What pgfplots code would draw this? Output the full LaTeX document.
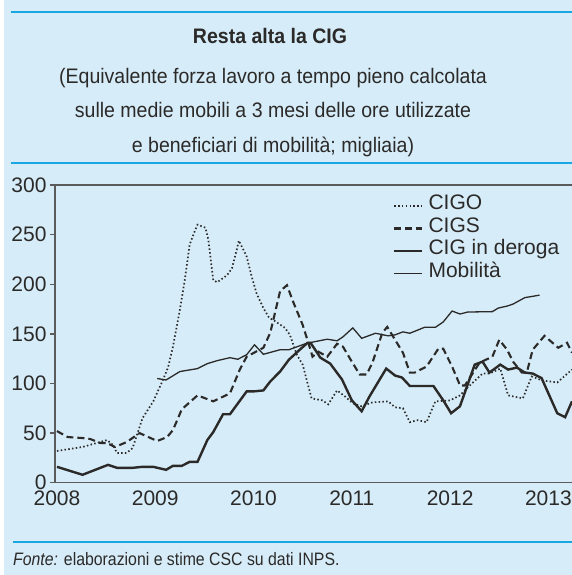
\documentclass[border=0pt]{standalone}
\usepackage{pgfplots}
\pgfplotsset{compat=1.18}
\usepackage{fontspec}
\setmainfont{Liberation Sans}
\newfontfamily\condfont[FakeStretch=0.93]{Liberation Sans}
\newfontfamily\footfont[FakeStretch=0.88]{Liberation Sans}
\definecolor{bg}{HTML}{D6ECF8}
\definecolor{rule}{HTML}{1AA7E1}
\definecolor{hdr}{HTML}{1A8FD0}
\definecolor{ink}{HTML}{2B2A29}
\definecolor{axisgray}{HTML}{5B5B5B}
\begin{document}
\begin{tikzpicture}
\useasboundingbox (0bp,0bp) rectangle (572bp,-575bp);
\clip (0bp,0bp) rectangle (572bp,-575bp);
\fill[white] (0bp,0bp) rectangle (572bp,-575bp);
\fill[bg] (4bp,0bp) rectangle (572bp,-575bp);
\node[anchor=base west, inner sep=0, text=hdr, font=\condfont\bfseries\fontsize{21bp}{24bp}\selectfont] at (425bp,3bp) {Grafico 1.11};
\draw[rule, line width=2.2bp] (11bp,-12bp) -- (572bp,-12bp);
\draw[rule, line width=2.2bp] (11bp,-163bp) -- (572bp,-163bp);
\draw[rule, line width=2.2bp] (13bp,-542bp) -- (572bp,-542bp);
\node[anchor=base, inner sep=0, text=ink, font=\condfont\bfseries\fontsize{21bp}{24bp}\selectfont] at (270bp,-43.5bp) {Resta alta la CIG};
\node[anchor=base, inner sep=0, text=ink, font=\condfont\fontsize{21bp}{24bp}\selectfont] at (273bp,-83.5bp) {(Equivalente forza lavoro a tempo pieno calcolata};
\node[anchor=base, inner sep=0, text=ink, font=\condfont\fontsize{21bp}{24bp}\selectfont] at (273bp,-117.5bp) {sulle medie mobili a 3 mesi delle ore utilizzate};
\node[anchor=base, inner sep=0, text=ink, font=\condfont\fontsize{21bp}{24bp}\selectfont] at (273bp,-152bp) {e beneficiari di mobilità; migliaia)};
\node[anchor=base west, inner sep=0, text=ink, font=\footfont\fontsize{18bp}{21bp}\selectfont] at (13bp,-565bp) {\textit{Fonte:} elaborazioni e stime CSC su dati INPS.};
\begin{axis}[name=ax, at={(55bp,-482.7bp)}, anchor=south west, scale only axis,
  width=517bp, height=297.7bp,
  xmin=2007.98, xmax=2013.24, ymin=0, ymax=300,
  axis x line*=bottom, axis y line*=left,
  axis line style={-, draw=axisgray, line width=1.5bp},
  xtick={2008,2009,2010,2011,2012,2013},
  ytick={0,50,100,150,200,250,300},
  x tick label style={/pgf/number format/1000 sep={}},
  /pgf/number format/assume math mode=true,
  tick label style={text=ink, font=\fontsize{21bp}{24bp}\selectfont},
  tick align=outside, major tick length=5bp,
  xtick style={draw=none},
  ytick style={draw=axisgray, line width=1.3bp},
  legend cell align=left,
  legend style={at={(axis description cs:0.6537,0.968)}, anchor=north west,
    draw=none, fill=none, inner sep=0pt, row sep=0bp, column sep=5bp,
    font=\fontsize{21bp}{24bp}\selectfont, text=ink,
    nodes={inner sep=0pt, text height=15bp, text depth=7.5bp}},
  legend image code/.code={\draw[#1] (0bp,0bp) -- (28bp,0bp);},
]
\addplot[ink, line width=1.7bp, dash pattern=on 1.5bp off 2.3bp] table {
x y
2008.00 32
2008.26 36
2008.51 43
2008.57 38
2008.61 30
2008.71 30
2008.77 35
2008.87 65
2008.98 82
2009.08 104
2009.13 116
2009.18 137
2009.25 174
2009.30 204
2009.35 240
2009.40 253
2009.43 260
2009.51 257
2009.54 245
2009.59 204
2009.63 202
2009.73 209
2009.78 216
2009.83 235
2009.85 244
2009.93 228
2009.98 208
2010.03 191
2010.10 176
2010.16 166
2010.20 164
2010.32 156
2010.37 149
2010.44 129
2010.50 119
2010.55 100
2010.59 85
2010.70 83
2010.76 79
2010.85 93
2010.93 87
2011.01 80
2011.10 77
2011.21 81
2011.37 82
2011.44 76
2011.52 75
2011.59 61
2011.67 63
2011.76 61
2011.85 82
2012.00 83
2012.10 88
2012.20 98
2012.33 110
2012.40 110
2012.51 115
2012.59 88
2012.74 85
2012.83 107
2012.94 103
2013.09 101
2013.24 114
};
\addlegendentry{CIGO}
\addplot[ink, line width=2.1bp, dash pattern=on 7bp off 4bp] table {
x y
2008.00 52
2008.11 46
2008.26 45
2008.34 44
2008.44 40
2008.51 40
2008.59 36
2008.71 41
2008.84 50
2009.02 42
2009.12 46
2009.18 53
2009.27 74
2009.43 88
2009.59 82
2009.76 90
2009.86 114
2009.93 127
2010.10 136
2010.17 151
2010.27 193
2010.34 199
2010.40 183
2010.50 159
2010.57 137
2010.60 127
2010.66 132
2010.75 127
2010.85 140
2010.91 137
2011.00 122
2011.08 109
2011.15 109
2011.21 121
2011.31 151
2011.36 157
2011.44 144
2011.52 131
2011.59 111
2011.64 111
2011.76 117
2011.88 135
2011.93 135
2012.02 117
2012.08 103
2012.10 98
2012.15 98
2012.30 121
2012.43 127
2012.50 144
2012.58 134
2012.64 122
2012.73 111
2012.78 111
2012.84 134
2012.96 148
2013.10 136
2013.19 141
2013.24 131
};
\addlegendentry{CIGS}
\addplot[ink, line width=2.4bp] table {
x y
2008.00 16
2008.26 8
2008.52 18
2008.61 15
2008.77 15
2008.87 16
2008.98 16
2009.11 13
2009.18 17
2009.27 17
2009.35 21
2009.43 21
2009.53 43
2009.59 51
2009.69 69
2009.76 69
2009.93 92
2010.00 92
2010.10 93
2010.17 102
2010.27 112
2010.36 124
2010.47 134
2010.55 141
2010.58 141
2010.68 126
2010.78 120
2010.90 104
2011.00 83
2011.10 72
2011.18 87
2011.35 115
2011.44 108
2011.51 106
2011.59 97.5
2011.83 97.5
2011.93 83
2012.01 70
2012.10 77
2012.25 119
2012.33 122
2012.40 111
2012.51 119
2012.59 114
2012.68 116
2012.76 111
2012.84 110
2012.93 105.5
2013.09 70
2013.17 66
2013.24 82
};
\addlegendentry{CIG in deroga}
\addplot[ink, line width=1.3bp] table {
x y
2009.02 105
2009.11 103.5
2009.25 112
2009.43 115
2009.53 120
2009.63 123
2009.76 126
2009.84 124.4
2009.93 129
2010.01 139
2010.10 129.4
2010.27 134
2010.36 134
2010.54 140.5
2010.75 144.6
2010.85 143
2010.91 147
2011.01 156
2011.10 145.5
2011.24 150.6
2011.37 148
2011.44 149
2011.52 152
2011.59 150.6
2011.74 156.6
2011.85 156.6
2011.93 162
2012.02 173
2012.10 170
2012.18 172
2012.43 172.4
2012.49 176
2012.58 178
2012.64 180
2012.76 186.5
2012.91 189
};
\addlegendentry{Mobilità}
\end{axis}
\draw[axisgray, line width=1.5bp] (ax.north west) -- (ax.north east);
\end{tikzpicture}
\end{document}
